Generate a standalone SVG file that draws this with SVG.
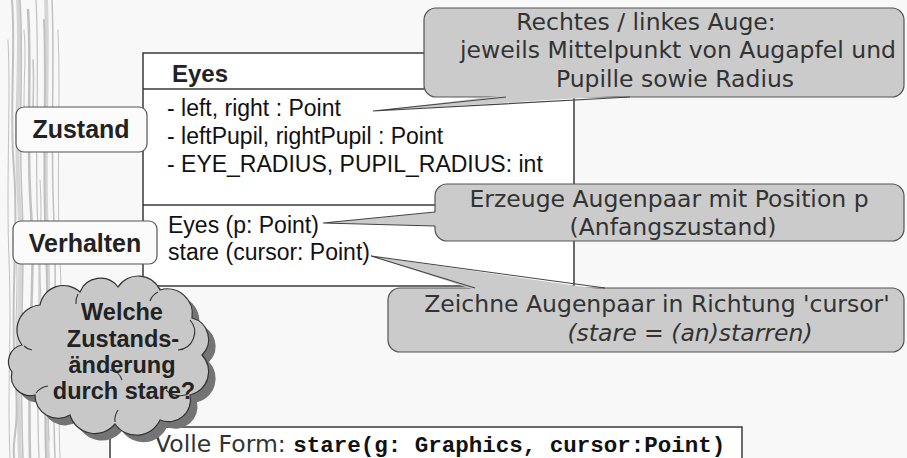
<svg xmlns="http://www.w3.org/2000/svg" width="907" height="458" viewBox="0 0 907 458">
  <style>
    .cls { font-family: "Liberation Sans", Arial, sans-serif; font-size: 23px; fill: #111; }
    .title { font-family: "Liberation Sans", Arial, sans-serif; font-weight: bold; fill: #222; }
    .note { font-family: "DejaVu Sans", Verdana, sans-serif; font-size: 23.5px; fill: #333; text-anchor: middle; }
    .frame { fill: #ffffff; stroke: #3a3a3a; stroke-width: 1.5; }
    .line { stroke: #3a3a3a; stroke-width: 1.5; fill: none; }
    .label { fill: #fbfbfb; stroke: #555; stroke-width: 1.2; }
    .bubble { fill: #cbcbcb; stroke: #555; stroke-width: 1.2; }
    .tail { fill: #cbcbcb; stroke: none; }
    .tail-edge { fill: none; stroke: #444; stroke-width: 1.2; }
    .grain { fill: none; stroke: #b8b8b8; stroke-linecap: round; }
    .grain2 { fill: none; stroke: #d0d0d0; stroke-linecap: round; }
  </style>

  <!-- page -->
  <rect x="0" y="0" width="907" height="458" fill="#f8f8f8"/>

  <!-- wood grain strip along the left edge -->
  <g id="grain" opacity="0.85">
    <path class="grain2" stroke-width="4" d="M18 0 C22 60 14 120 19 200 S15 320 20 458"/>
    <path class="grain2" stroke-width="4" d="M46 0 C49 70 43 150 47 240 S44 360 48 458"/>
    <path class="grain" stroke-width="2" d="M12 0 C16 50 9 110 14 170 S10 300 15 370 S12 430 14 458"/>
    <path class="grain" stroke-width="1.5" d="M20 0 C24 60 18 120 22 200 S18 320 23 458"/>
    <path class="grain" stroke-width="2.5" d="M28 10 C32 70 26 140 31 210 S27 330 30 458"/>
    <path class="grain" stroke-width="1.2" d="M36 0 C40 80 34 150 38 230 S35 360 39 458"/>
    <path class="grain" stroke-width="2" d="M44 20 C47 90 42 160 46 250 S43 370 46 458"/>
    <path class="grain" stroke-width="1.5" d="M52 0 C55 70 50 140 54 220 S51 350 55 458"/>
    <path class="grain" stroke-width="1" d="M58 30 C61 100 56 180 60 260 S57 380 60 458"/>
    <path class="grain" stroke-width="1" d="M8 40 C11 100 6 180 9 260 S7 380 10 458"/>
    <path class="grain" stroke-width="1" d="M24 30 C27 60 22 90 25 130"/>
    <path class="grain" stroke-width="1" d="M40 180 C43 220 38 260 41 300"/>
    <path class="grain" stroke-width="1" d="M48 300 C51 340 46 380 49 440"/>
    <path class="grain" stroke-width="1.5" d="M33 60 C35 90 31 110 34 150"/>
    <path class="grain" stroke-width="1" d="M16 250 C19 290 14 320 17 360"/>
  </g>

  <!-- class box -->
  <g id="class-eyes">
    <rect class="frame" x="143" y="53" width="431" height="233"/>
    <line class="line" x1="143" y1="89" x2="574" y2="89"/>
    <line class="line" x1="143" y1="205" x2="574" y2="205"/>
    <text class="title" x="172" y="82" font-size="24">Eyes</text>
    <text class="cls" x="167" y="116">- left, right : Point</text>
    <text class="cls" x="167" y="144">- leftPupil, rightPupil : Point</text>
    <text class="cls" x="167" y="172">- EYE_RADIUS, PUPIL_RADIUS: int</text>
    <text class="cls" x="168" y="233">Eyes (p: Point)</text>
    <text class="cls" x="168" y="260">stare (cursor: Point)</text>
  </g>

  <!-- full signature box -->
  <g id="full-form">
    <path class="frame" d="M110 458 V427 H742 V458"/>
    <text x="155" y="452" font-family="'DejaVu Sans', Verdana, sans-serif" font-size="23.5" fill="#333">Volle Form: <tspan font-family="'Liberation Mono', 'Courier New', monospace" font-weight="bold" font-size="22.5" fill="#111">stare(g: Graphics, cursor:Point)</tspan></text>
  </g>

  <!-- section labels -->
  <g id="label-zustand">
    <rect class="label" x="16" y="107" width="131" height="45" rx="8"/>
    <text class="title" x="81" y="138" font-size="25" text-anchor="middle">Zustand</text>
  </g>
  <g id="label-verhalten">
    <rect class="label" x="13" y="221" width="144" height="43" rx="8"/>
    <text class="title" x="85" y="252" font-size="25" text-anchor="middle">Verhalten</text>
  </g>

  <!-- thought cloud -->
  <g id="cloud">
    <path transform="translate(7,7)" fill="#747474" d="M22 345 A25 25 0 0 1 40 305 A24 24 0 0 1 80 292 A22 22 0 0 1 118 287 A24 24 0 0 1 160 290 A25 25 0 0 1 192 318 A22 22 0 0 1 202 355 A24 24 0 0 1 190 395 A22 22 0 0 1 160 420 A26 26 0 0 1 115 424 A26 26 0 0 1 70 415 A23 23 0 0 1 35 395 A19 19 0 0 1 12 372 A17 17 0 0 1 22 345 Z"/>
    <path fill="#c8c8c8" stroke="#333" stroke-width="1.2" d="M22 345 A25 25 0 0 1 40 305 A24 24 0 0 1 80 292 A22 22 0 0 1 118 287 A24 24 0 0 1 160 290 A25 25 0 0 1 192 318 A22 22 0 0 1 202 355 A24 24 0 0 1 190 395 A22 22 0 0 1 160 420 A26 26 0 0 1 115 424 A26 26 0 0 1 70 415 A23 23 0 0 1 35 395 A19 19 0 0 1 12 372 A17 17 0 0 1 22 345 Z"/>
    <g fill="none" stroke="#333" stroke-width="1.1">
      <path d="M24 346 A14 14 0 0 0 32 350"/>
      <path d="M78 294 A18 18 0 0 0 76 304"/>
      <path d="M158 292 A16 16 0 0 0 150 301"/>
      <path d="M190 320 A18 18 0 0 1 178 350"/>
      <path d="M188 394 A20 20 0 0 1 166 390"/>
      <path d="M115 422 A18 18 0 0 1 118 410"/>
      <path d="M36 393 A18 18 0 0 1 48 386"/>
      <path d="M110 370 A14 14 0 0 1 122 380"/>
    </g>
    <g class="title" font-size="23.5" fill="#333" text-anchor="middle">
      <text x="122" y="320">Welche</text>
      <text x="123" y="347">Zustands-</text>
      <text x="122" y="373">änderung</text>
      <text x="124" y="399">durch stare?</text>
    </g>
  </g>

  <!-- callout boxes -->
  <g id="note-eyes">
    <rect class="bubble" x="424" y="8" width="480" height="89" rx="12"/>
    <text class="note" x="646" y="30">Rechtes / linkes Auge:</text>
    <text class="note" x="678" y="58">jeweils Mittelpunkt von Augapfel und</text>
    <text class="note" x="675" y="87">Pupille sowie Radius</text>
  </g>
  <g id="note-ctor">
    <rect class="bubble" x="435" y="184" width="469" height="57" rx="12"/>
    <text class="note" x="669" y="207">Erzeuge Augenpaar mit Position p</text>
    <text class="note" x="673" y="235">(Anfangszustand)</text>
  </g>
  <g id="note-stare">
    <rect class="bubble" x="388" y="288" width="516" height="64" rx="12"/>
    <text class="note" x="657" y="312">Zeichne Augenpaar in Richtung 'cursor'</text>
    <text class="note" x="690" y="341" font-style="italic">(stare = (an)starren)</text>
  </g>

  <!-- callout pointers -->
  <g id="connectors">
    <polygon class="tail" points="506,95 373,111 630,95"/>
    <polyline class="tail-edge" points="506,97 373,111 630,97"/>
    <polygon class="tail" points="437,212 323,223 437,226"/>
    <polyline class="tail-edge" points="435,212 323,223 435,226"/>
    <polygon class="tail" points="475,290 371,256 605,290"/>
    <polyline class="tail-edge" points="475,288 371,256 605,288"/>
  </g>
</svg>
